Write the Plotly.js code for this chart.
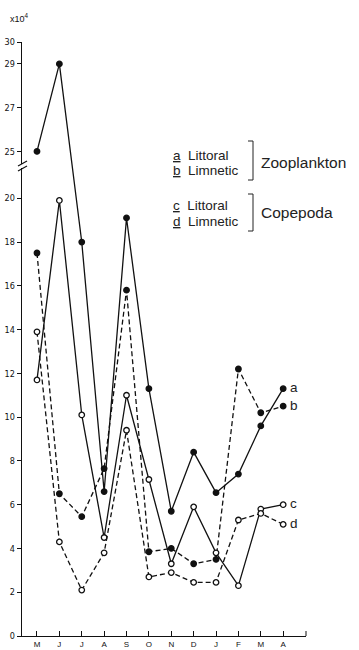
<!DOCTYPE html>
<html><head><meta charset="utf-8">
<script src="https://cdn.plot.ly/plotly-3.0.1.min.js"></script>
<style>html,body{margin:0;padding:0;background:#fff}#chart{width:359px;height:650px}</style>
</head><body><div id="chart"></div>
<script>
// ---- data (values in units of x10^4) ----
const months = ['M','J','J','A','S','O','N','D','J','F','M','A'];
const littoralZoo = [25, 29, 18.0, 6.6, 19.1, 11.3, 5.7, 8.4, 6.55, 7.4, 9.6, 11.3];   // a
const limneticZoo = [17.5, 6.5, 5.45, 7.65, 15.8, 3.85, 4.0, 3.3, 3.5, 12.2, 10.2, 10.5]; // b
const littoralCop = [11.7, 19.9, 10.1, 4.5, 11.0, 7.15, 3.3, 5.9, 3.8, 2.3, 5.8, 6.0];  // c
const limneticCop = [13.9, 4.3, 2.1, 3.8, 9.4, 2.7, 2.9, 2.45, 2.45, 5.3, 5.6, 5.1];   // d
const yTickValues = [0,2,4,6,8,10,12,14,16,18,20,25,27,29,30];
const seriesLetters = ['a','b','c','d'];

// ---- broken value axis: the span 20..25 is compressed ----
const BREAK_LO = 20, BREAK_HI = 25, GAP = 2.14;
function scaleY(v){
  if (v <= BREAK_LO) return v;
  if (v >= BREAK_HI) return BREAK_LO + GAP + (v - BREAK_HI);
  return BREAK_LO + (v - BREAK_LO) / (BREAK_HI - BREAK_LO) * GAP;
}
const xIdx = months.map((m,i)=>i);

// ---- layout geometry (pixels) ----
const W = 359, H = 650, ML = 22, MR = 53, MT = 42, MB = 14;
const PW = W-ML-MR, PH = H-MT-MB;
const px2x = px => (px-ML)/PW;
const py2y = py => (H-MB-py)/PH;

const LW = 1.3;
function trace(vals, dashed, filled){
  return {
    x: xIdx, y: vals.map(scaleY), type:'scatter', mode:'lines+markers',
    line:{color:'#111', width:LW, dash: dashed ? '5px,3px' : 'solid'},
    marker:{size:5.5, color: filled ? '#111' : '#fff', line:{color:'#111', width:1.3}},
    cliponaxis:false, showlegend:false, hoverinfo:'skip'
  };
}
const data = [
  trace(littoralZoo, false, true),
  trace(limneticZoo, true, true),
  trace(littoralCop, false, false),
  trace(limneticCop, true, false)
];

const txtFont = {family:'"Liberation Sans", Arial, sans-serif', size:13.5, color:'#222'};
const grpFont = {family:'"Liberation Sans", Arial, sans-serif', size:15.5, color:'#222'};
const tickFont = {family:'"Liberation Sans Narrow", "DejaVu Sans Condensed", sans-serif', size:9, color:'#111'};

const ends = [littoralZoo, limneticZoo, littoralCop, limneticCop];
const annotations = ends.map((arr,i)=>({
  x: xIdx[xIdx.length-1], y: scaleY(arr[arr.length-1]), xref:'x', yref:'y',
  text: seriesLetters[i], showarrow:false, xanchor:'left', xshift:5, yshift:1, font: txtFont
}));
function note(text, px, py, anchor, font){
  annotations.push({x:px2x(px), y:py2y(py), xref:'paper', yref:'paper', text, showarrow:false,
    xanchor: anchor||'left', yanchor:'middle', font: font||txtFont});
}
note('<u>a</u>  Littoral', 171, 155);
note('<u>b</u>  Limnetic', 171, 171);
note('Zooplankton', 259, 162, 'left', grpFont);
note('<u>c</u>  Littoral', 171, 205);
note('<u>d</u>  Limnetic', 171, 221);
note('Copepoda', 259, 213, 'left', grpFont);
note('x10<sup>4</sup>', 8, 18, 'left', {family:'"Liberation Sans Narrow", sans-serif', size:9, color:'#111'});

const shapes = [];
function bracket(top, bot, xr){
  shapes.push({type:'path', xref:'paper', yref:'paper',
    path:`M ${px2x(xr-5)},${py2y(top)} L ${px2x(xr)},${py2y(top)} L ${px2x(xr)},${py2y(bot)} L ${px2x(xr-5)},${py2y(bot)}`,
    line:{color:'#222', width:1}});
}
bracket(141, 180, 253);
bracket(194, 231, 253);
// axis break marks
shapes.push({type:'rect', xref:'paper', yref:'paper', x0:px2x(19), x1:px2x(25), y0:py2y(168), y1:py2y(164),
  fillcolor:'#fff', line:{width:0}});
shapes.push({type:'line', xref:'paper', yref:'paper', x0:px2x(18), y0:py2y(166), x1:px2x(27), y1:py2y(161), line:{color:'#111', width:1.2}});
shapes.push({type:'line', xref:'paper', yref:'paper', x0:px2x(18), y0:py2y(171), x1:px2x(27), y1:py2y(166), line:{color:'#111', width:1.2}});
// closing tick at the end of the month axis
shapes.push({type:'line', xref:'paper', yref:'paper', x0:1, x1:1, y0:0, y1:py2y(H-MB-5), line:{color:'#111', width:1}});

const layout = {
  width: W, height: H, margin:{l:ML, r:MR, t:MT, b:MB},
  paper_bgcolor:'#fff', plot_bgcolor:'#fff', showlegend:false,
  xaxis:{range:[-0.67, 12.02], tickvals: xIdx, ticktext: months,
    ticks:'inside', ticklen:5, tickwidth:1, tickcolor:'#111', showline:true, linecolor:'#111', linewidth:LW,
    showgrid:false, zeroline:false, tickfont:{family:'"Liberation Sans Narrow", sans-serif', size:8, color:'#111'}, fixedrange:true},
  yaxis:{range:[0, scaleY(30)], tickvals: yTickValues.map(scaleY), ticktext: yTickValues.map(String),
    ticks:'outside', ticklen:4, tickwidth:1, tickcolor:'#111', showline:true, linecolor:'#111', linewidth:LW,
    showgrid:false, zeroline:false, tickfont: tickFont, fixedrange:true},
  annotations, shapes
};
Plotly.newPlot('chart', data, layout, {staticPlot:true, displayModeBar:false});
</script></body></html>
